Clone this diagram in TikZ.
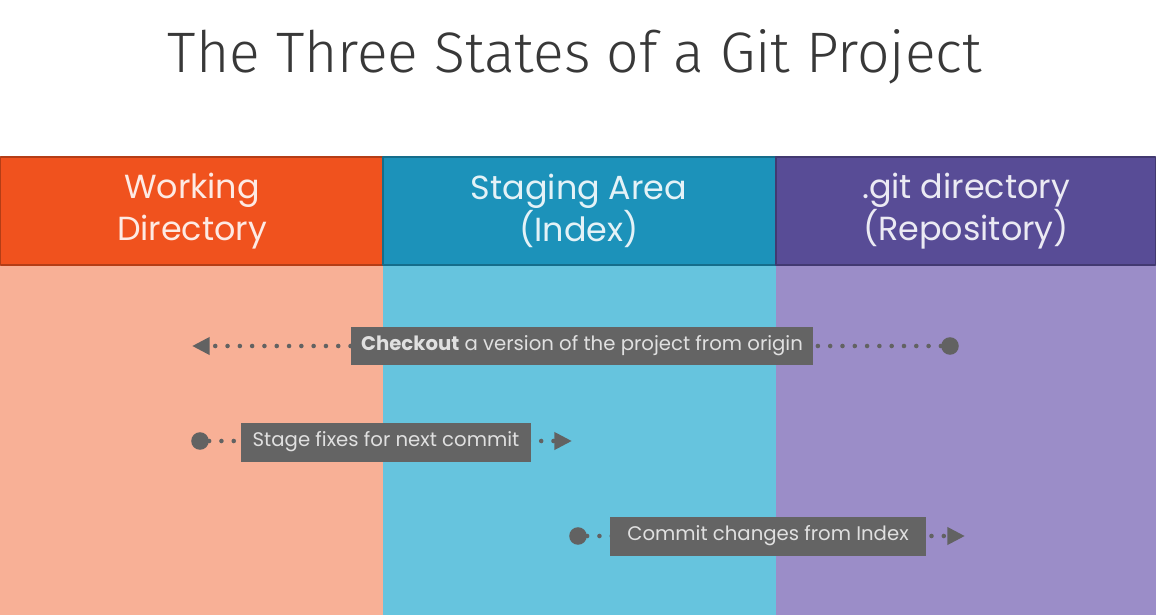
\documentclass[tikz,border=0pt]{standalone}
\usepackage{fontspec}
\setmainfont{Poppins}
\newfontfamily\titlefont{Fira Sans Light}
\usetikzlibrary{arrows.meta}
\definecolor{wdhead}{RGB}{240,82,30}
\definecolor{wdbody}{RGB}{248,176,150}
\definecolor{sahead}{RGB}{28,146,186}
\definecolor{sabody}{RGB}{102,196,222}
\definecolor{gdhead}{RGB}{88,76,150}
\definecolor{gdbody}{RGB}{155,141,200}
\definecolor{tagfill}{RGB}{100,100,100}
\definecolor{dotgray}{RGB}{98,98,98}
\begin{document}
\begin{tikzpicture}[x=0.02cm,y=-0.02cm,line join=round,
  head/.style={font=\fontsize{19}{24}\selectfont,align=center},
  tag/.style={fill=tagfill,text=white!88!black,font=\fontsize{11.2}{13}\selectfont,minimum height=0.78cm,inner xsep=0pt},
  flow/.style={dotgray,line width=2.6pt,line cap=round,dash pattern=on 0pt off 7pt,-{Triangle[length=10pt,width=9.5pt]}},
  dot/.style={circle,fill=dotgray,inner sep=0pt,minimum size=10pt}]
  \useasboundingbox (0,0) rectangle (1156,615);
  \fill[white] (0,0) rectangle (1156,615);
  % title
  \node[font=\titlefont\fontsize{32.5}{38}\selectfont,text=black!78] (title) at (575,57) {The Three States of a Git Project};
  % the three columns
  \fill[wdbody] (0,265) rectangle (383,615);
  \fill[sabody] (383,265) rectangle (776,615);
  \fill[gdbody] (776,265) rectangle (1156,615);
  \draw[fill=wdhead,draw=wdhead!75!black,line width=0.7pt] (0.5,157) rectangle (383,265);
  \draw[fill=sahead,draw=sahead!75!black,line width=0.7pt] (383,157) rectangle (776,265);
  \draw[fill=gdhead,draw=gdhead!75!black,line width=0.7pt] (776,157) rectangle (1155.5,265);
  \node[head,text=white!88!wdhead] (wd) at (192,211) {Working\\Directory};
  \node[head,text=white!88!sahead] (sa) at (579,211) {Staging Area\\(Index)};
  \node[head,text=white!88!gdhead] (gd) at (966,211) {.git directory\\(Repository)};
  % checkout
  \node[dot] (c1) at (950,346) {};
  \coordinate (t1) at (192,346);
  \draw[flow] (c1) -- (t1);
  \node[tag,minimum width=9.24cm] (checkout) at (582,346) {\textbf{Checkout} a version of the project from origin};
  % stage
  \node[dot] (c2) at (200,441) {};
  \coordinate (t2) at (572,441);
  \draw[flow] (c2) -- (t2);
  \node[tag,minimum width=5.8cm] (stage) at (386,442) {Stage fixes for next commit};
  % commit
  \node[dot] (c3) at (578,536) {};
  \coordinate (t3) at (965,536);
  \draw[flow] (c3) -- (t3);
  \node[tag,minimum width=6.32cm] (commit) at (768,536) {Commit changes from Index};
\end{tikzpicture}
\end{document}
